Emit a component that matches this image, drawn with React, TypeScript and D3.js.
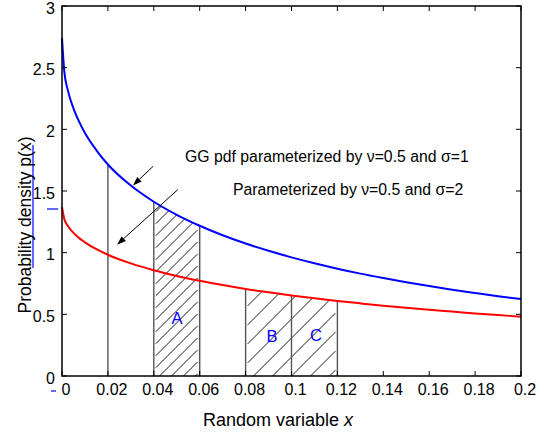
import React from 'react'
import * as d3 from 'd3'

// sample points along x and the two pdf curves
const xGrid = [0, 0.001, 0.0025, 0.005, 0.0075, 0.01, 0.015, 0.02, 0.03, 0.04, 0.05, 0.06, 0.07, 0.08, 0.09, 0.1, 0.11, 0.12, 0.13, 0.14, 0.15, 0.16, 0.17, 0.18, 0.19, 0.2]
const pdfSigma1 = [2.74, 2.47, 2.32, 2.17, 2.06, 1.97, 1.83, 1.715, 1.544, 1.413, 1.307, 1.218, 1.141, 1.074, 1.015, 0.962, 0.914, 0.87, 0.83, 0.794, 0.76, 0.729, 0.7, 0.673, 0.647, 0.624]
const pdfSigma2 = [1.369, 1.272, 1.218, 1.161, 1.118, 1.084, 1.028, 0.983, 0.913, 0.857, 0.811, 0.772, 0.737, 0.706, 0.679, 0.653, 0.63, 0.609, 0.589, 0.57, 0.553, 0.537, 0.522, 0.507, 0.494, 0.481]

const xTicks = [0, 0.02, 0.04, 0.06, 0.08, 0.1, 0.12, 0.14, 0.16, 0.18, 0.2]
const xTickLabels = ['0', '0.02', '0.04', '0.06', '0.08', '0.1', '0.12', '0.14', '0.16', '0.18', '0.2']
const yTicks = [0, 0.5, 1, 1.5, 2, 2.5, 3]
const yTickLabels = ['0', '0.5', '1', '1.5', '2', '2.5', '3']

// vertical posts up to each curve
const bluePosts = [0.02, 0.04, 0.06]
const redPosts = [0.08, 0.1, 0.12]

// hatched areas: [from, to]
const hatchBlue = [0.04, 0.06]
const hatchRed = [0.08, 0.12]

const regionLabels = ['A', 'B', 'C']
const regionLabelX = [0.0501, 0.0915, 0.1107]
const regionLabelY = [0.47, 0.325, 0.333]

// arrows: [x, y] start -> tip
const arrowFrom = [[0.0397, 1.70], [0.0505, 1.512]]
const arrowTo = [[0.0309, 1.545], [0.024, 1.065]]

const W = 545
const H = 434
const margin = { top: 6, right: 24, bottom: 58, left: 62 }
const FONT = 'Liberation Sans, Arial, Helvetica, sans-serif'

const x = d3.scaleLinear().domain([0, 0.2]).range([margin.left, W - margin.right])
const y = d3.scaleLinear().domain([0, 3]).range([H - margin.bottom, margin.top])

const blueData = xGrid.map((v, i) => [v, pdfSigma1[i]])
const redData = xGrid.map((v, i) => [v, pdfSigma2[i]])

const line = d3.line().x(d => x(d[0])).y(d => y(d[1])).curve(d3.curveMonotoneX)
const area = d3.area().x(d => x(d[0])).y0(y(0)).y1(d => y(d[1])).curve(d3.curveMonotoneX)

function valueAt(series, xv) {
	const i = xGrid.indexOf(xv)
	return series[i]
}

function Hatch({ id, range, series, step }) {
	const pts = xGrid.map((v, i) => [v, series[i]]).filter(d => d[0] >= range[0] && d[0] <= range[1])
	const x0 = x(range[0])
	const x1 = x(range[1])
	const top = d3.min(pts, d => y(d[1]))
	const bottom = y(0)
	const w = x1 - x0
	const lines = []
	for (let c = top; c <= bottom + w; c += step) {
		lines.push([x0, c, x1, c - w])
	}
	return (
		<g>
			<clipPath id={id}>
				<path d={area(pts)} />
			</clipPath>
			<g clipPath={`url(#${id})`}>
				{lines.map((l, i) => (
					<line key={i} x1={l[0] + 2} y1={l[1] - 2} x2={l[2] - 2} y2={l[3] + 2} stroke="#000" strokeWidth={0.9} />
				))}
			</g>
		</g>
	)
}

function Arrow({ from, to }) {
	const x1 = x(from[0]), y1 = y(from[1])
	const x2 = x(to[0]), y2 = y(to[1])
	const ang = Math.atan2(y2 - y1, x2 - x1)
	const len = 9, half = 3.2
	const bx = x2 - len * Math.cos(ang), by = y2 - len * Math.sin(ang)
	const px = -Math.sin(ang) * half, py = Math.cos(ang) * half
	return (
		<g>
			<line x1={x1} y1={y1} x2={bx} y2={by} stroke="#000" strokeWidth={1} />
			<polygon points={`${x2},${y2} ${bx + px},${by + py} ${bx - px},${by - py}`} fill="#000" />
		</g>
	)
}

export default function App() {
	const left = x(0), right = x(0.2), top = y(3), bottom = y(0)
	return (
		<svg width={W} height={H} style={{ position: 'absolute', left: 0, top: 0, background: '#fff' }} fontFamily={FONT}>
			<rect x={0} y={0} width={W} height={H} fill="#fff" />

			<Hatch id="hatchA" range={hatchBlue} series={pdfSigma1} step={12} />
			<Hatch id="hatchBC" range={hatchRed} series={pdfSigma2} step={19} />

			{bluePosts.map(p => (
				<line key={'b' + p} x1={x(p)} x2={x(p)} y1={bottom} y2={y(valueAt(pdfSigma1, p))} stroke="#555" strokeWidth={1.4} />
			))}
			{redPosts.map(p => (
				<line key={'r' + p} x1={x(p)} x2={x(p)} y1={bottom} y2={y(valueAt(pdfSigma2, p))} stroke="#555" strokeWidth={1.4} />
			))}

			<path d={line(blueData)} fill="none" stroke="#0000ff" strokeWidth={2} />
			<path d={line(redData)} fill="none" stroke="#ff0000" strokeWidth={2} />

			{arrowFrom.map((f, i) => <Arrow key={i} from={f} to={arrowTo[i]} />)}

			{regionLabels.map((l, i) => (
				<text key={l} x={x(regionLabelX[i])} y={y(regionLabelY[i])} dy="0.36em" textAnchor="middle" fontSize={16.5} fill="#0000ff">{l}</text>
			))}

			<text x={185} y={162} fontSize={15.8} fill="#000">GG pdf parameterized by ν=0.5 and σ=1</text>
			<text x={233} y={195} fontSize={15.8} fill="#000">Parameterized by ν=0.5 and σ=2</text>

			{/* frame */}
			<rect x={left} y={top} width={right - left} height={bottom - top} fill="none" stroke="#000" strokeWidth={1.5} />

			{xTicks.map((t, i) => (
				<g key={'xt' + i}>
					<line x1={x(t)} x2={x(t)} y1={bottom} y2={bottom - 5} stroke="#000" strokeWidth={1} />
					<line x1={x(t)} x2={x(t)} y1={top} y2={top + 5} stroke="#000" strokeWidth={1} />
					<text x={x(t) + 4} y={395} textAnchor="middle" fontSize={16} fill="#000">{xTickLabels[i]}</text>
				</g>
			))}
			{yTicks.map((t, i) => (
				<g key={'yt' + i}>
					<line x1={left} x2={left + 5} y1={y(t)} y2={y(t)} stroke="#000" strokeWidth={1} />
					<line x1={right} x2={right - 5} y1={y(t)} y2={y(t)} stroke="#000" strokeWidth={1} />
					<text x={55} y={y(t) + 2} dy="0.36em" textAnchor="end" fontSize={16} fill="#000">{yTickLabels[i]}</text>
				</g>
			))}

			{/* stray blue marks from the original figure */}
			<line x1={51} x2={56} y1={391} y2={391} stroke="#0000ff" strokeWidth={1.2} />
			<line x1={47} x2={58} y1={209} y2={209} stroke="#0000ff" strokeWidth={1.2} />
			<line x1={33} x2={33} y1={145} y2={268} stroke="#0000ff" strokeWidth={1.2} />

			<text transform="translate(31,225) rotate(-90)" textAnchor="middle" fontSize={17.5} fill="#000">Probability density p(x)</text>
			<text x={203} y={426} fontSize={18} fill="#000">Random variable <tspan fontStyle="italic">x</tspan></text>
		</svg>
	)
}
